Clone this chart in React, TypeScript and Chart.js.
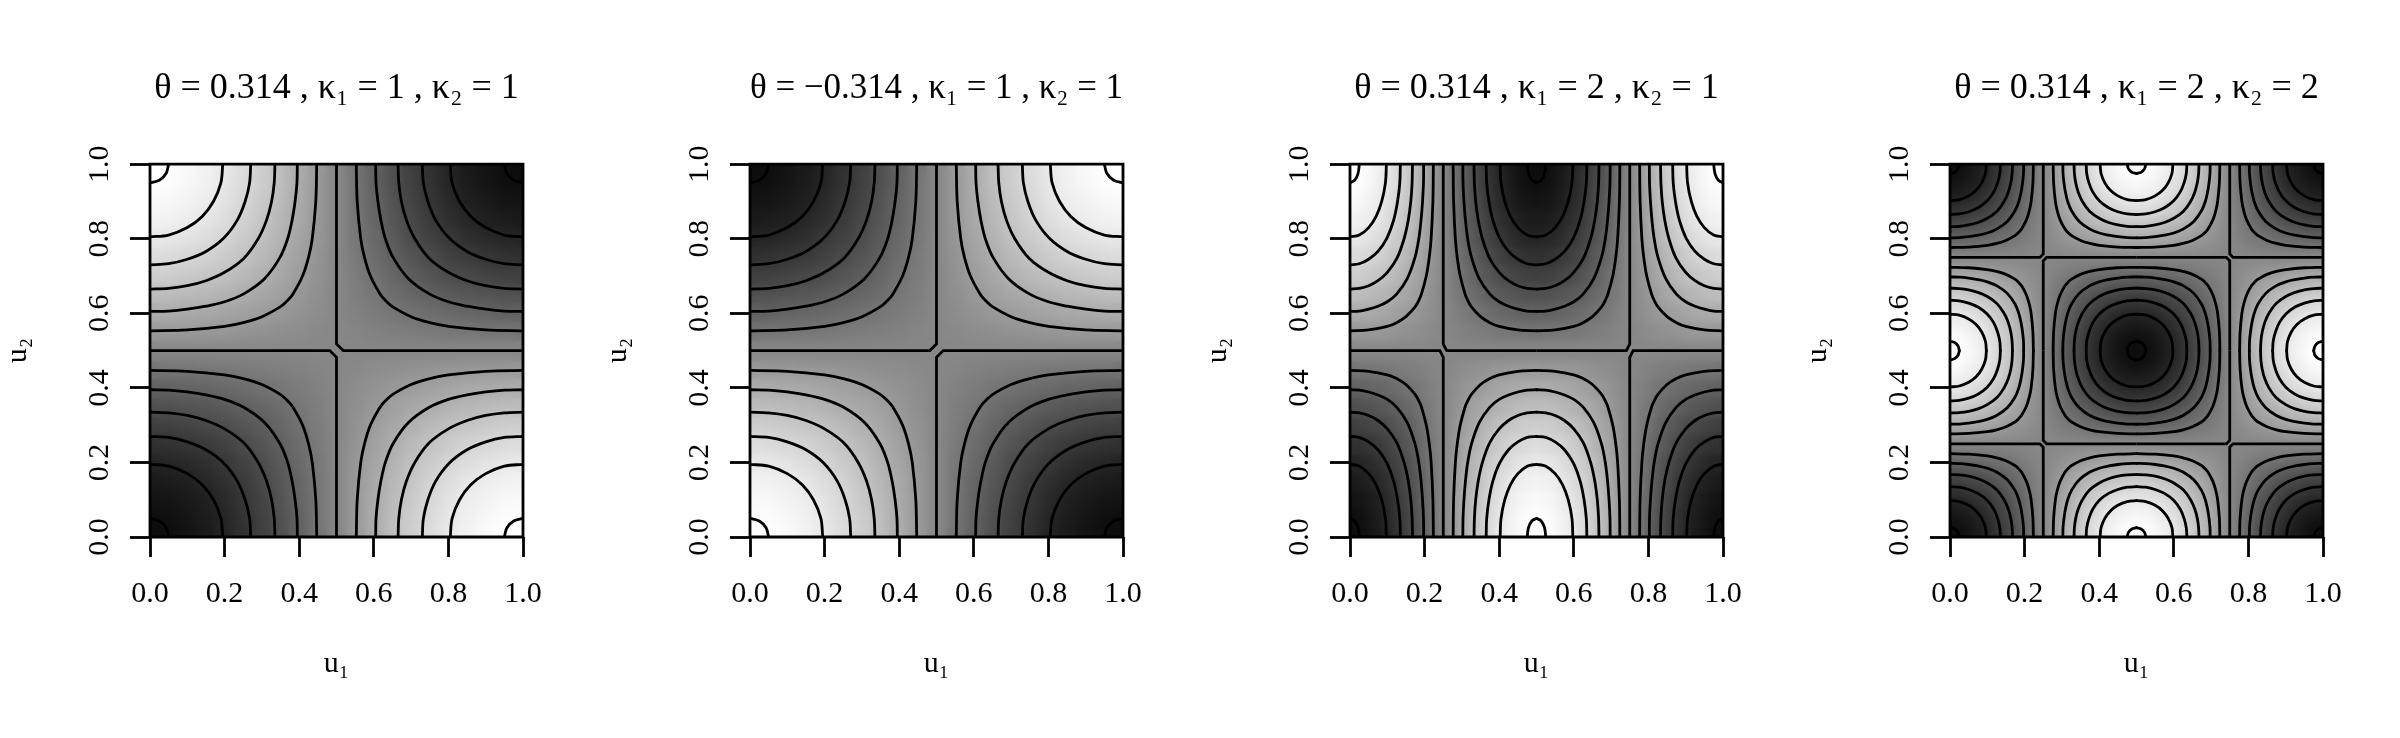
import React, { useEffect, useRef } from "react";
import { Chart, registerables } from "chart.js";

Chart.register(...registerables);

// Panel titles and axis labels
const panelTitles = [
  "θ = 0.314 , κ₁ = 1 , κ₂ = 1",
  "θ = −0.314 , κ₁ = 1 , κ₂ = 1",
  "θ = 0.314 , κ₁ = 2 , κ₂ = 1",
  "θ = 0.314 , κ₁ = 2 , κ₂ = 2",
];
const xAxisLabel = "u₁";
const yAxisLabel = "u₂";
const tickStep = 0.2;

// Extreme points of each panel, rows are u2 ascending, columns are u1 ascending (-1 dark, 1 light)
const panel1Extremes = [[-1, 1], [1, -1]];
const panel2Extremes = [[1, -1], [-1, 1]];
const panel3Extremes = [[-1, 1, -1], [1, -1, 1]];
const panel4Extremes = [[-1, 1, -1], [1, -1, 1], [-1, 1, -1]];
const panelExtremes = [panel1Extremes, panel2Extremes, panel3Extremes, panel4Extremes];

const contourInner = [[0, 0.05], [0.025, 0.043], [0.043, 0.025], [0.05, 0]];
const contour195 = [[0, 0.195], [0.05, 0.19], [0.1, 0.17], [0.14, 0.14], [0.17, 0.1], [0.19, 0.05], [0.195, 0]];
const contour270 = [[0, 0.27], [0.05, 0.267], [0.1, 0.255], [0.15, 0.234], [0.198, 0.198], [0.234, 0.15], [0.255, 0.1], [0.267, 0.05], [0.27, 0]];
const contour335 = [[0, 0.335], [0.05, 0.333], [0.1, 0.326], [0.15, 0.3125], [0.2, 0.29], [0.252, 0.252], [0.29, 0.2], [0.3125, 0.15], [0.326, 0.1], [0.333, 0.05], [0.335, 0]];
const contour395 = [[0, 0.395], [0.05, 0.394], [0.1, 0.389], [0.15, 0.381], [0.2, 0.369], [0.25, 0.3485], [0.307, 0.307], [0.3485, 0.25], [0.369, 0.2], [0.381, 0.15], [0.389, 0.1], [0.394, 0.05], [0.395, 0]];
const contour447 = [[0, 0.447], [0.1, 0.4445], [0.2, 0.435], [0.25, 0.425], [0.3, 0.409], [0.35, 0.382], [0.367, 0.367], [0.382, 0.35], [0.409, 0.3], [0.425, 0.25], [0.435, 0.2], [0.4445, 0.1], [0.447, 0]];
const contourBoundary = [[0, 0.5], [0.482, 0.5], [0.5, 0.482], [0.5, 0]];
const quarterContours = [contourInner, contour195, contour270, contour335, contour395, contour447];

const quarterShade = [
  [100, 99, 95, 89, 81, 71, 59, 45, 31, 16, 0],
  [99, 98, 94, 88, 80, 70, 58, 45, 31, 15, 0],
  [95, 94, 90, 85, 77, 67, 56, 43, 29, 15, 0],
  [89, 88, 85, 79, 72, 63, 52, 40, 28, 14, 0],
  [81, 80, 77, 72, 65, 57, 48, 37, 25, 13, 0],
  [71, 70, 67, 63, 57, 50, 42, 32, 22, 11, 0],
  [59, 58, 56, 52, 48, 42, 35, 27, 18, 9, 0],
  [45, 45, 43, 40, 37, 32, 27, 21, 14, 7, 0],
  [31, 31, 29, 28, 25, 22, 18, 14, 10, 5, 0],
  [16, 15, 15, 14, 13, 11, 9, 7, 5, 2, 0],
  [0, 0, 0, 0, 0, 0, 0, 0, 0, 0, 0],
];
const shadeStep = 0.05;
const midGray = 135;
const darkGain = 1.22;
const lightGain = 1.2;

const FONT = "'Liberation Serif'";
const PANEL_W = 600;
const PANEL_H = 738;
const AREA = { left: 150, right: 523, top: 164, bottom: 537 };
const LINE_W = 2.8;

const tileCache = new Map<string, HTMLCanvasElement>();
function tile(w: number, h: number, g: number) {
  const key = `${w}x${h}:${g}`;
  let c = tileCache.get(key);
  if (!c) {
    c = document.createElement("canvas");
    c.width = w;
    c.height = h;
    const x = c.getContext("2d")!;
    x.fillStyle = `rgb(${g},${g},${g})`;
    x.fillRect(0, 0, w, h);
    tileCache.set(key, c);
  }
  return c;
}

const blurTiles = {
  id: "blurTiles",
  afterDatasetDraw(chart: any, args: any) {
    if (chart.data.datasets[args.index].label !== "tiles") return;
    const { left, top, width, height } = chart.chartArea;
    const ctx = chart.ctx;
    ctx.save();
    ctx.beginPath();
    ctx.rect(left, top, width, height);
    ctx.clip();
    ctx.filter = `blur(${chart.options.plugins.blurTiles.sigma}px)`;
    ctx.drawImage(chart.canvas, left, top, width, height, left, top, width, height);
    ctx.restore();
  },
};

function buildDatasets(extremes: number[][]) {
  const rows = extremes.length;
  const cols = extremes[0].length;
  const kx = 1 / (cols - 1);
  const ky = 1 / (rows - 1);
  const plotW = AREA.right - AREA.left;
  const tw = Math.ceil(shadeStep * kx * plotW) + 1;
  const th = Math.ceil(shadeStep * ky * plotW) + 1;
  const lines: any[] = [];
  const tiles: any[] = [];
  extremes.forEach((row, j) =>
    row.forEach((sign, i) => {
      for (const sx of [-1, 1]) {
        for (const sy of [-1, 1]) {
          const ex = i * kx;
          const ey = j * ky;
          if (ex + sx * kx * 0.5 < 0 || ex + sx * kx * 0.5 > 1) continue;
          if (ey + sy * ky * 0.5 < 0 || ey + sy * ky * 0.5 > 1) continue;
          const place = (p: number[]) => ({ x: ex + sx * p[0] * kx, y: ey + sy * p[1] * ky });
          quarterContours.forEach((curve, n) =>
            lines.push({
              label: `contour ${n}`,
              data: curve.map(place),
              showLine: true,
              pointRadius: 0,
              borderColor: "#000",
              borderWidth: LINE_W,
              borderCapStyle: "round",
              tension: 0.35,
              clip: 0,
            }),
          );
          if (sign < 0) {
            lines.push({
              label: "boundary",
              data: contourBoundary.map(place),
              showLine: true,
              pointRadius: 0,
              borderColor: "#000",
              borderWidth: LINE_W,
              tension: 0,
              clip: 0,
            });
          }
          quarterShade.forEach((r, b) =>
            r.forEach((d, a) => {
              const g = Math.round(
                sign < 0 ? midGray - darkGain * d : Math.min(255, midGray + lightGain * d),
              );
              tiles.push({ ...place([a * shadeStep, b * shadeStep]), g });
            }),
          );
        }
      }
    }),
  );
  const box = {
    label: "box",
    data: [{ x: 0, y: 0 }, { x: 1, y: 0 }, { x: 1, y: 1 }, { x: 0, y: 1 }, { x: 0, y: 0 }],
    showLine: true,
    pointRadius: 0,
    borderColor: "#000",
    borderWidth: LINE_W,
    borderCapStyle: "square",
    clip: false,
    tension: 0,
  };
  const tileSet = {
    label: "tiles",
    data: tiles,
    showLine: false,
    clip: 0,
    pointRadius: 1,
    pointStyle: (c: any) => tile(tw, th, c.raw ? c.raw.g : midGray),
  };
  // the first dataset is painted last
  return { datasets: [box, ...lines, tileSet], sigma: Math.max(tw, th) <= 12 ? 4 : cols > 2 ? 4.5 : 6 };
}

function Panel({ index }: { index: number }) {
  const ref = useRef<HTMLCanvasElement>(null);
  useEffect(() => {
    const { datasets, sigma } = buildDatasets(panelExtremes[index]);
    const tickFont = { family: FONT, size: 30 };
    const axisBase = {
      type: "linear",
      min: 0,
      max: 1,
      border: { display: false },
      grid: { drawOnChartArea: false, drawTicks: true, tickLength: 20, tickColor: "#000", tickWidth: LINE_W },
    };
    const chart = new Chart(ref.current!, {
      type: "scatter",
      data: { datasets },
      plugins: [blurTiles],
      options: {
        animation: false,
        responsive: false,
        layout: { padding: { left: 0, right: PANEL_W - AREA.right, top: 0, bottom: 0 } },
        plugins: {
          legend: { display: false },
          tooltip: { enabled: false },
          blurTiles: { sigma },
          title: {
            display: true,
            text: panelTitles[index],
            color: "#000",
            fullSize: false,
            font: { family: FONT, size: 36, weight: "normal", lineHeight: 1.2 },
            padding: { top: 67, bottom: 54 },
          },
        },
        scales: {
          x: {
            ...axisBase,
            afterFit: (s: any) => { s.height = PANEL_H - AREA.bottom; },
            ticks: {
              stepSize: tickStep,
              autoSkip: false,
              maxRotation: 0,
              minRotation: 0,
              padding: 19,
              color: "#000",
              font: tickFont,
              callback: (v: any) => Number(v).toFixed(1),
            },
            title: {
              display: true,
              text: xAxisLabel,
              color: "#000",
              font: { family: FONT, size: 30 },
              padding: { top: 0, bottom: 56 },
            },
          },
          y: {
            ...axisBase,
            afterFit: (s: any) => { s.width = AREA.left; },
            ticks: {
              stepSize: tickStep,
              autoSkip: false,
              minRotation: 90,
              maxRotation: 90,
              crossAlign: "center",
              padding: 11,
              color: "#000",
              font: tickFont,
              callback: (v: any) => Number(v).toFixed(1),
            },
            title: {
              display: true,
              text: yAxisLabel,
              color: "#000",
              font: { family: FONT, size: 30 },
              padding: { top: 0, bottom: 6 },
            },
          },
        },
      } as any,
    } as any);
    return () => chart.destroy();
  }, [index]);
  return (
    <canvas
      ref={ref}
      width={PANEL_W}
      height={PANEL_H}
      style={{ position: "absolute", left: index * PANEL_W, top: 0, display: "block" }}
    />
  );
}

export default function App() {
  useEffect(() => {
    document.body.style.margin = "0";
    document.body.style.background = "#fff";
    document.body.style.overflow = "hidden";
  }, []);
  return (
    <div style={{ position: "relative", width: 2400, height: 738, overflow: "hidden", background: "#fff" }}>
      {panelTitles.map((_, i) => (
        <Panel key={i} index={i} />
      ))}
    </div>
  );
}
